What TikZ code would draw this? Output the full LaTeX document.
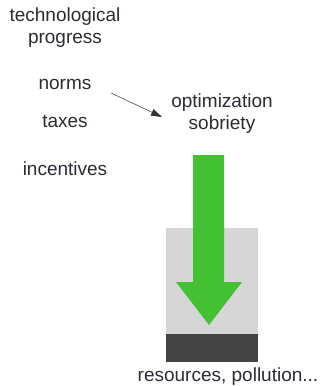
\documentclass[tikz,border=0pt]{standalone}
\usepackage{fontspec}
\setmainfont{Liberation Sans}
\usetikzlibrary{arrows.meta}
\definecolor{txt}{HTML}{2B2B38}
\definecolor{grn}{HTML}{44C132}
\definecolor{lgray}{HTML}{D6D6D6}
\definecolor{dgray}{HTML}{444444}
\begin{document}
\begin{tikzpicture}[x=1pt,y=-1pt,
  lbl/.style={text=txt,font=\fontsize{19}{22}\selectfont,align=center,inner sep=0pt}]
\useasboundingbox (0,0) rectangle (323,386);
\node[lbl] (tech) at (65,28) {technological\\progress};
\node[lbl] (norms) at (65,84) {norms};
\node[lbl] (taxes) at (65,121) {taxes};
\node[lbl] (inc) at (65,169) {incentives};
\node[lbl] (opt) at (222,114) {optimization\\sobriety};
\node[lbl] (res) at (228,377) {resources, pollution...};
\coordinate (as) at (111,93);
\coordinate (ae) at (162,117);
\draw[-{Triangle[length=11pt,width=7pt]},line width=0.5pt,black!80] (as) -- (ae);
\fill[lgray] (166,228) rectangle (258,334);
\fill[dgray] (166,334) rectangle (258,362);
\fill[grn] (193,155) -- (224,155) -- (224,282) -- (242,282) -- (209,325) -- (176,282) -- (193,282) -- cycle;
\end{tikzpicture}
\end{document}
